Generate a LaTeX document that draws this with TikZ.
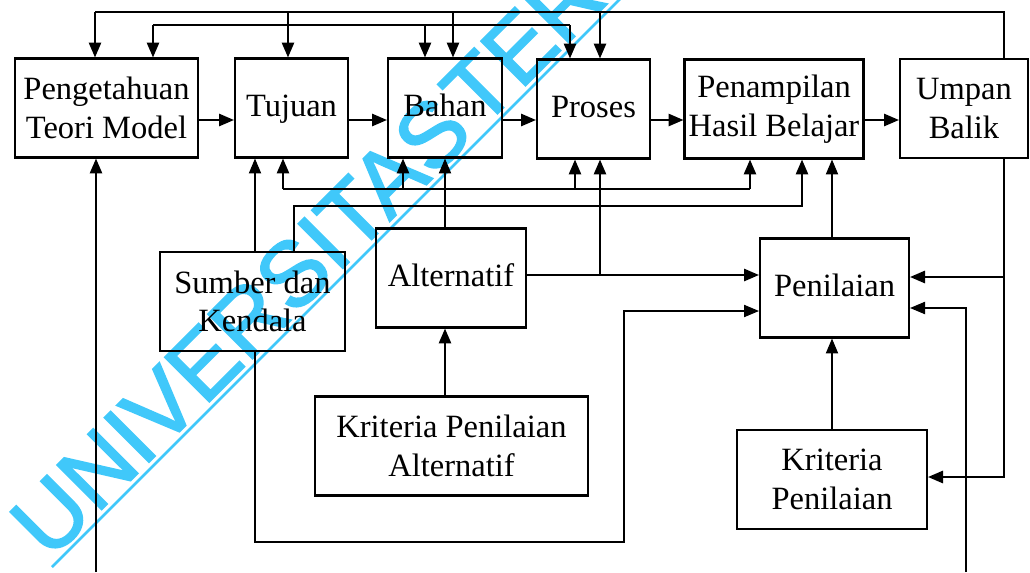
\documentclass[tikz,border=0pt]{standalone}
\usepackage{fontspec}
\setmainfont{Liberation Serif}
\newfontfamily\wmfont[FakeBold=2]{Liberation Sans}
\usetikzlibrary{arrows.meta}
\usetikzlibrary{calc}
\definecolor{wmcyan}{RGB}{64,200,250}

\begin{document}
\begin{tikzpicture}[x=0.2mm, y=-0.2mm, line width=1.1pt,
		kotak/.style={draw, line width=1.2pt, align=center, inner sep=0pt, minimum height=19.8mm, font=\fontsize{18.5}{22}\selectfont},
		arr/.style={-{Triangle[length=8.5pt,width=7pt]}},
		tipis/.style={line width=0.6pt}]
		\useasboundingbox (0,0) rectangle (1030,572);
		\clip (0,0) rectangle (1030,572);
		% watermark
		\node[wmcyan, rotate=45, anchor=base west, inner sep=0pt, font=\wmfont\fontsize{52}{60}\selectfont] (wm) at (49,562) {UNIVERSITAS\hspace{-0.2em} TERBUKA};
		\draw[wmcyan, line width=1.6pt] (52,567) -- (640,-21);
		% boxes
		\node[kotak, minimum width=36.6mm] (peng) at (106.5,108) {Pengetahuan\\Teori Model};
		\node[kotak, minimum width=22.6mm, text depth=0.3em] (tujuan) at (291.5,108) {Tujuan};
		\node[kotak, minimum width=22.8mm, text depth=0.3em] (bahan) at (445,108) {Bahan};
		\node[kotak, minimum width=22.6mm, text depth=0.3em] (proses) at (593.5,109) {Proses};
		\node[kotak, minimum width=35.8mm] (tampil) at (774,109) {Penampilan\\Hasil Belajar};
		\node[kotak, minimum width=25.6mm] (umpan) at (964,108.5) {Umpan\\Balik};
		\node[kotak, minimum width=37mm] (sumber) at (252.5,301.5) {Sumber dan\\Kendala};
		\node[kotak, minimum width=30mm, text depth=0.3em] (alt) at (451,278) {Alternatif};
		\node[kotak, minimum width=29.8mm, text depth=0.3em] (nilai) at (834.5,288) {Penilaian};
		\node[kotak, minimum width=54.6mm] (kritalt) at (451.5,446) {Kriteria Penilaian\\Alternatif};
		\node[kotak, minimum width=38mm] (kritnilai) at (832,479.5) {Kriteria\\Penilaian};
		% top row flow
		\draw[arr] (peng.east |- 0,120) -- (tujuan.west |- 0,120);
		\draw[arr] (tujuan.east |- 0,120) -- (bahan.west |- 0,120);
		\draw[arr] (bahan.east |- 0,120) -- (proses.west |- 0,120);
		\draw[arr] (proses.east |- 0,120) -- (tampil.west |- 0,120);
		\draw[arr] (tampil.east |- 0,120) -- (umpan.west |- 0,120);
		% feedback lines on top
		\draw (umpan.north -| 1004,0) |- (95,12);
		\foreach \x/\n in {95/peng,288/tujuan,453/bahan,600/proses}
			\draw[arr] (\x,12) -- (\n.north -| \x,0);
		\draw (153,25) -- (570,25);
		\foreach \x/\n in {153/peng,425/bahan,570/proses}
			\draw[arr] (\x,25) -- (\n.north -| \x,0);
		% lines under the top row
		\draw (283,189) -- (750,189);
		\foreach \x/\n in {283/tujuan,403/bahan,575/proses,750/tampil}
			\draw[arr] (\x,189) -- (\n.south -| \x,0);
		\draw[arr] (sumber.north -| 294,0) |- (802,206) -- (tampil.south -| 802,0);
		\draw[arr, tipis] (sumber.north -| 255,0) -- (tujuan.south -| 255,0);
		\draw[arr, tipis] (alt.north -| 445,0) -- (bahan.south -| 445,0);
		\draw[arr] (alt.east |- 0,275) -- (nilai.west |- 0,275);
		\draw[arr] (600,275) -- (proses.south -| 600,0);
		\draw[arr, tipis] (sumber.south -| 255,0) |- (624,542) |- (nilai.west |- 0,311);
		\draw[arr] (kritalt.north -| 445,0) -- (alt.south -| 445,0);
		\draw[arr, tipis] (nilai.north -| 832,0) -- (tampil.south -| 832,0);
		\draw[arr, tipis] (kritnilai.north) -- (kritnilai.north |- nilai.south);
		% right side
		\draw[arr] (umpan.south -| 1004,0) |- (kritnilai.east |- 0,477);
		\draw[arr] (1004,277) -- (nilai.east |- 0,277);
		\draw[arr, tipis] (966,572) |- (nilai.east |- 0,308);
		\draw[arr] (96,572) -- (peng.south -| 96,0);
	\end{tikzpicture}
\end{document}
